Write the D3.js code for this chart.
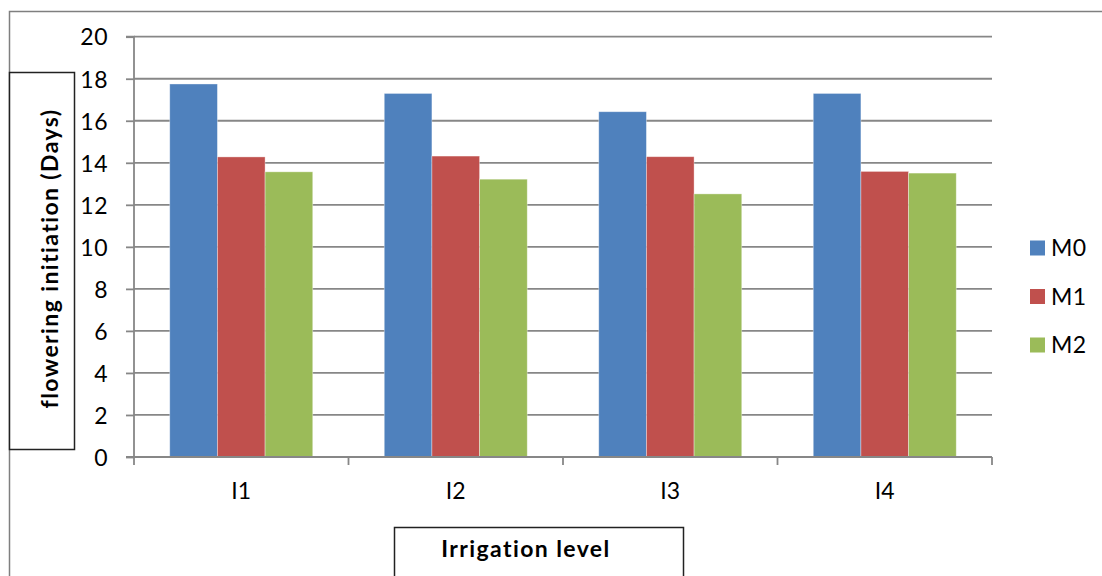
<!DOCTYPE html>
<html>
<head>
<meta charset="utf-8">
<script src="https://cdn.jsdelivr.net/npm/d3@7"></script>
<style>
  html, body { margin: 0; padding: 0; background: #fff; }
  svg { display: block; }
  text { font-family: Lato, "Open Sans", sans-serif; fill: #000; }
</style>
</head>
<body>
<svg id="chart" width="1102" height="576"></svg>
<script>
// Irrigation levels on the x axis
const categories = ["I1", "I2", "I3", "I4"];
// Treatments shown as grouped bars
const seriesNames = ["M0", "M1", "M2"];
const seriesColors = ["#4F81BD", "#C0504D", "#9BBB59"];
// Days to flowering initiation per treatment, one entry per irrigation level
const M0 = [17.75, 17.3, 16.43, 17.3];
const M1 = [14.28, 14.32, 14.29, 13.59];
const M2 = [13.57, 13.22, 12.52, 13.51];
const yTicks = [0, 2, 4, 6, 8, 10, 12, 14, 16, 18, 20];
const yTitle = "flowering initiation (Days)";
const xTitle = "Irrigation level";

const seriesValues = [M0, M1, M2];

const svg = d3.select("#chart");
const plot = { left: 134, right: 992, top: 36.7, bottom: 457 };

const x0 = d3.scaleBand().domain(categories).range([plot.left, plot.right]).paddingInner(0).paddingOuter(0);
const x1 = d3.scaleBand().domain(seriesNames).range([0, x0.bandwidth()]).paddingInner(0).paddingOuter(0.75);
const y = d3.scaleLinear().domain([0, 20]).range([plot.bottom, plot.top]);

// Outer frame (top and left edges)
svg.append("path")
  .attr("d", `M9.5,576 V11.5 H1102`)
  .attr("fill", "none").attr("stroke", "#7f7f7f").attr("stroke-width", 1.5);

// Horizontal gridlines
svg.append("g").selectAll("line").data(yTicks.filter(t => t > 0)).join("line")
  .attr("x1", plot.left).attr("x2", plot.right)
  .attr("y1", d => y(d)).attr("y2", d => y(d))
  .attr("stroke", "#878787").attr("stroke-width", 1.8);

// Bars
const groups = svg.append("g").selectAll("g").data(categories).join("g")
  .attr("transform", d => `translate(${x0(d)},0)`);
groups.selectAll("rect")
  .data((c, i) => seriesNames.map((s, j) => ({ s, j, v: seriesValues[j][i] })))
  .join("rect")
  .attr("x", d => x1(d.s))
  .attr("width", x1.bandwidth())
  .attr("y", d => y(d.v))
  .attr("height", d => y(0) - y(d.v))
  .attr("fill", d => seriesColors[d.j])
  .attr("stroke", "rgba(255,255,255,0.45)")
  .attr("stroke-width", 0.8);

// Y axis
const yAxis = d3.axisLeft(y).tickValues(yTicks).tickSize(8).tickPadding(18).tickFormat(d3.format("d"));
const gy = svg.append("g").attr("transform", `translate(${plot.left},0)`).call(yAxis);
gy.select(".domain").attr("stroke", "#878787").attr("stroke-width", 1.8).attr("d", `M-8,${plot.bottom}H0V${plot.top}H-8`);
gy.selectAll(".tick line").attr("stroke", "#878787").attr("stroke-width", 1.8);
gy.selectAll(".tick text").attr("font-size", 23).attr("font-family", "Lato, sans-serif")
  .attr("letter-spacing", 0.5).attr("fill", "#000").attr("dy", "0.36em");

// X axis with ticks at category boundaries
const gx = svg.append("g").attr("transform", `translate(0,${plot.bottom})`);
gx.append("line").attr("x1", plot.left).attr("x2", plot.right).attr("y1", 0).attr("y2", 0)
  .attr("stroke", "#878787").attr("stroke-width", 2);
const boundaries = categories.map(c => x0(c)).concat([plot.right]);
gx.selectAll("line.tk").data(boundaries).join("line").attr("class", "tk")
  .attr("x1", d => d).attr("x2", d => d).attr("y1", 0).attr("y2", 8)
  .attr("stroke", "#878787").attr("stroke-width", 1.8);
gx.selectAll("text").data(categories).join("text")
  .attr("x", d => x0(d) + x0.bandwidth() / 2)
  .attr("y", 42)
  .attr("text-anchor", "middle")
  .attr("font-size", 23)
  .text(d => d);

// Y axis title box
svg.append("rect").attr("x", 9.5).attr("y", 72.5).attr("width", 65).attr("height", 377)
  .attr("fill", "#fff").attr("stroke", "#222").attr("stroke-width", 1.5);
svg.append("text")
  .attr("transform", `translate(58,258.5) rotate(-90)`)
  .attr("text-anchor", "middle")
  .attr("font-size", 23).attr("font-weight", "bold")
  .attr("letter-spacing", 1.4)
  .text(yTitle);

// X axis title box
svg.append("rect").attr("x", 394.5).attr("y", 527.5).attr("width", 289).attr("height", 60)
  .attr("fill", "#fff").attr("stroke", "#222").attr("stroke-width", 1.5);
svg.append("text")
  .attr("x", 526).attr("y", 557)
  .attr("text-anchor", "middle")
  .attr("font-size", 23).attr("font-weight", "bold")
  .attr("letter-spacing", 1.4)
  .text(xTitle);

// Legend
const legend = svg.append("g").selectAll("g").data(seriesNames).join("g")
  .attr("transform", (d, i) => `translate(1030,${248 + i * 48.5})`);
legend.append("rect").attr("x", 0).attr("y", -7.5).attr("width", 15).attr("height", 15)
  .attr("fill", (d, i) => seriesColors[i]);
legend.append("text").attr("x", 21).attr("y", 0).attr("dy", "0.36em")
  .attr("font-size", 23).attr("letter-spacing", 0.5).text(d => d);
</script>
</body>
</html>
